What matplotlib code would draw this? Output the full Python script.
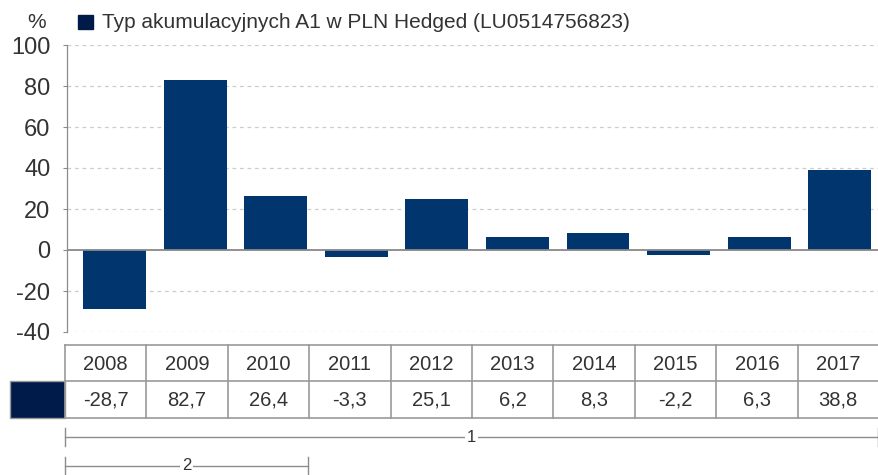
import numpy as np
import matplotlib as mpl
import matplotlib.pyplot as plt

mpl.rcParams['font.family'] = ['Liberation Sans', 'DejaVu Sans']

years = ['2008', '2009', '2010', '2011', '2012', '2013', '2014', '2015', '2016', '2017']
returns = [-28.7, 82.7, 26.4, -3.3, 25.1, 6.2, 8.3, -2.2, 6.3, 38.8]
series_name = 'Typ akumulacyjnych A1 w PLN Hedged (LU0514756823)'
yticks = [-40, -20, 0, 20, 40, 60, 80, 100]
bracket_labels = ['1', '2']

bar_col = '#00356e'
dark_col = '#001a4a'
txt_col = '#333333'
line_col = '#8c8c8c'

W, H = 879, 475
fig = plt.figure(figsize=(W / 100, H / 100), dpi=100)

# main bar chart, placed in pixel terms
ax = fig.add_axes([67 / W, 1 - 332 / H, (880 - 67) / W, 287 / H])
x = np.arange(len(years))
ax.bar(x, returns, width=0.78, color=bar_col, zorder=3)
ax.set_xlim(-0.59, 9.5)
ax.set_ylim(-40, 100)
ax.set_yticks(yticks)
ax.set_yticklabels([str(t) for t in yticks], fontsize=17, color=txt_col)
ax.set_xticks([])
ax.tick_params(axis='y', length=3, width=0.8, color=line_col, pad=9)
for t in yticks:
    if t == 0:
        ax.axhline(t, color='#888888', lw=1.3, zorder=4)
    else:
        ax.axhline(t, color='#cccccc', lw=0.9, ls=(0, (3, 3)), zorder=1)
for s in ['top', 'right', 'bottom']:
    ax.spines[s].set_visible(False)
ax.spines['left'].set_color(line_col)
ax.spines['left'].set_linewidth(0.9)

# overlay in pixel coordinates for header, table and brackets
ov = fig.add_axes([0, 0, 1, 1], zorder=5)
ov.set_xlim(0, W)
ov.set_ylim(H, 0)
ov.axis('off')
ov.patch.set_alpha(0)

ov.text(37, 22, '%', fontsize=15, color=txt_col, ha='center', va='center')
ov.add_patch(plt.Rectangle((78, 15), 15, 14, color=dark_col))
ov.text(102, 22, series_name, fontsize=15, color=txt_col, va='center')

# table
t_left, t_right = 65, 879
t_top, t_mid, t_bot = 345, 381, 418
cw = (t_right - t_left) / len(years)
ov.add_patch(plt.Rectangle((10, t_mid), t_left - 10, t_bot - t_mid,
                           facecolor=dark_col, edgecolor='#999999', lw=1))
for yy in (t_top, t_mid, t_bot):
    ov.plot([t_left, t_right], [yy, yy], color='#999999', lw=1.2)
for i in range(len(years) + 1):
    xx = t_left + i * cw
    ov.plot([xx, xx], [t_top, t_bot], color='#999999', lw=1.2)
for i, (yr, v) in enumerate(zip(years, returns)):
    cx = t_left + (i + 0.5) * cw
    ov.text(cx, (t_top + t_mid) / 2 + 1, yr, fontsize=14.5, color=txt_col,
            ha='center', va='center')
    ov.text(cx, (t_mid + t_bot) / 2 + 1, f'{v:.1f}'.replace('.', ','),
            fontsize=14.5, color=txt_col, ha='center', va='center')

# period brackets
def bracket(x0, x1, y, label):
    ov.plot([x0, x1], [y, y], color=line_col, lw=1)
    for xx in (x0, x1):
        ov.plot([xx, xx], [y - 9, y + 9], color=line_col, lw=1)
    ov.text((x0 + x1) / 2, y, label, fontsize=12, color=txt_col, ha='center',
            va='center', bbox=dict(facecolor='white', edgecolor='none', pad=1.5))

bracket(t_left, t_right - 1, 437, bracket_labels[0])
bracket(t_left, t_left + 3 * cw - 1, 466, bracket_labels[1])

fig.savefig('out.png', dpi=100)
